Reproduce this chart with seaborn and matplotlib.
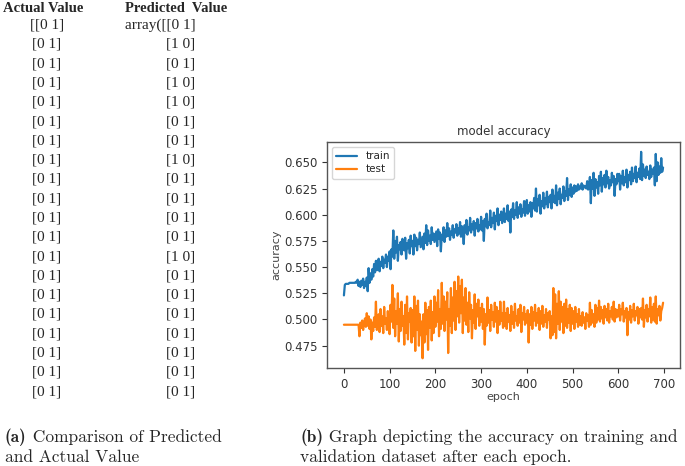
import matplotlib
matplotlib.use("Agg")
import matplotlib.pyplot as plt
import seaborn as sns
import pandas as pd

sns.set_style("ticks")

# left table: actual vs predicted one-hot labels
actual_vals = ["[[0 1]"] + ["[0 1]"] * 19
predicted_vals = ["array([[0 1]", "[1 0]", "[0 1]", "[1 0]", "[1 0]", "[0 1]", "[0 1]",
                  "[1 0]", "[0 1]", "[0 1]", "[0 1]", "[0 1]", "[1 0]", "[0 1]",
                  "[0 1]", "[0 1]", "[0 1]", "[0 1]", "[0 1]", "[0 1]"]

# accuracy history, read every 2 epochs (one row = 50 epochs)
epochs = list(range(0, 700, 2))
train_acc = [
    0.523, 0.533, 0.534, 0.534, 0.534, 0.534, 0.535, 0.535, 0.535, 0.535, 0.535, 0.535, 0.535,
    0.536, 0.535, 0.538, 0.532, 0.536, 0.531, 0.537, 0.533, 0.539, 0.530, 0.536, 0.532,
    0.540, 0.527, 0.549, 0.535, 0.544, 0.538, 0.548, 0.541, 0.553, 0.545, 0.556, 0.547, 0.552,
    0.558, 0.546, 0.555, 0.551, 0.560, 0.549, 0.557, 0.554, 0.562, 0.550, 0.560, 0.556,
    0.565, 0.548, 0.567, 0.560, 0.585, 0.558, 0.575, 0.564, 0.579, 0.556, 0.571, 0.567, 0.574,
    0.562, 0.577, 0.569, 0.566, 0.578, 0.558, 0.573, 0.568, 0.576, 0.563, 0.580, 0.570,
    0.575, 0.562, 0.581, 0.570, 0.578, 0.566, 0.576, 0.572, 0.583, 0.569, 0.574, 0.579, 0.567,
    0.582, 0.573, 0.590, 0.571, 0.585, 0.575, 0.580, 0.572, 0.588, 0.576, 0.582, 0.574,
    0.579, 0.584, 0.570, 0.586, 0.577, 0.583, 0.565, 0.581, 0.576, 0.588, 0.574, 0.585, 0.579,
    0.592, 0.580, 0.587, 0.576, 0.584, 0.581, 0.590, 0.578, 0.586, 0.583, 0.591, 0.580,
    0.587, 0.582, 0.593, 0.579, 0.589, 0.584, 0.572, 0.590, 0.583, 0.595, 0.581, 0.588, 0.585,
    0.597, 0.583, 0.591, 0.586, 0.594, 0.580, 0.592, 0.587, 0.596, 0.584, 0.590, 0.586,
    0.598, 0.585, 0.594, 0.575, 0.596, 0.589, 0.601, 0.587, 0.593, 0.590, 0.604, 0.588, 0.597,
    0.592, 0.602, 0.586, 0.599, 0.594, 0.606, 0.590, 0.600, 0.595, 0.603, 0.592, 0.598,
    0.606, 0.593, 0.601, 0.596, 0.609, 0.594, 0.603, 0.583, 0.605, 0.598, 0.611, 0.596, 0.604,
    0.600, 0.612, 0.597, 0.607, 0.601, 0.610, 0.598, 0.605, 0.602, 0.613, 0.599, 0.608,
    0.614, 0.601, 0.609, 0.603, 0.612, 0.598, 0.611, 0.606, 0.616, 0.604, 0.625, 0.603, 0.615,
    0.609, 0.619, 0.601, 0.613, 0.608, 0.621, 0.606, 0.616, 0.610, 0.622, 0.607, 0.617,
    0.612, 0.619, 0.606, 0.624, 0.612, 0.618, 0.611, 0.628, 0.609, 0.621, 0.615, 0.625, 0.610,
    0.619, 0.616, 0.627, 0.613, 0.622, 0.618, 0.635, 0.614, 0.624, 0.619, 0.629, 0.617,
    0.626, 0.620, 0.628, 0.622, 0.627, 0.623, 0.629, 0.624, 0.627, 0.625, 0.630, 0.624, 0.628,
    0.626, 0.627, 0.625, 0.632, 0.624, 0.628, 0.636, 0.611, 0.633, 0.625, 0.640, 0.618,
    0.634, 0.626, 0.631, 0.620, 0.637, 0.628, 0.641, 0.622, 0.635, 0.629, 0.638, 0.626, 0.642,
    0.630, 0.636, 0.625, 0.633, 0.628, 0.640, 0.631, 0.637, 0.618, 0.634, 0.629, 0.639,
    0.632, 0.639, 0.624, 0.637, 0.630, 0.642, 0.628, 0.636, 0.631, 0.643, 0.626, 0.638, 0.633,
    0.641, 0.629, 0.645, 0.632, 0.639, 0.635, 0.646, 0.631, 0.640, 0.636, 0.644, 0.634,
    0.660, 0.633, 0.648, 0.637, 0.643, 0.635, 0.646, 0.638, 0.641, 0.634, 0.647, 0.636, 0.643,
    0.639, 0.645, 0.628, 0.658, 0.632, 0.650, 0.638, 0.646, 0.640, 0.654, 0.641, 0.645,
]
test_acc = [
    0.495, 0.495, 0.495, 0.495, 0.495, 0.495, 0.495, 0.495, 0.495, 0.495, 0.495, 0.495, 0.495,
    0.495, 0.495, 0.495, 0.495, 0.484, 0.497, 0.492, 0.499, 0.490, 0.496, 0.501, 0.493,
    0.506, 0.494, 0.503, 0.491, 0.500, 0.481, 0.497, 0.489, 0.502, 0.493, 0.517, 0.490, 0.499,
    0.505, 0.488, 0.510, 0.494, 0.503, 0.487, 0.512, 0.496, 0.501, 0.490, 0.508, 0.493,
    0.486, 0.514, 0.498, 0.533, 0.492, 0.520, 0.484, 0.508, 0.496, 0.525, 0.479, 0.510, 0.489,
    0.517, 0.494, 0.503, 0.476, 0.514, 0.487, 0.522, 0.481, 0.506, 0.498, 0.511, 0.478,
    0.509, 0.484, 0.522, 0.470, 0.513, 0.490, 0.518, 0.475, 0.505, 0.485, 0.498, 0.463, 0.505,
    0.478, 0.516, 0.486, 0.509, 0.471, 0.512, 0.492, 0.518, 0.480, 0.507, 0.487, 0.522,
    0.493, 0.516, 0.498, 0.528, 0.484, 0.510, 0.491, 0.535, 0.496, 0.522, 0.489, 0.517, 0.500,
    0.526, 0.468, 0.510, 0.494, 0.530, 0.487, 0.521, 0.499, 0.536, 0.490, 0.527, 0.503,
    0.541, 0.497, 0.532, 0.506, 0.538, 0.487, 0.521, 0.499, 0.530, 0.495, 0.516, 0.488, 0.526,
    0.501, 0.514, 0.482, 0.509, 0.497, 0.524, 0.491, 0.515, 0.503, 0.519, 0.494, 0.511,
    0.498, 0.515, 0.491, 0.510, 0.476, 0.505, 0.494, 0.521, 0.497, 0.509, 0.489, 0.514, 0.500,
    0.507, 0.493, 0.516, 0.498, 0.512, 0.487, 0.508, 0.495, 0.517, 0.499, 0.506, 0.492,
    0.517, 0.494, 0.506, 0.491, 0.511, 0.498, 0.504, 0.489, 0.513, 0.496, 0.507, 0.492, 0.515,
    0.499, 0.503, 0.494, 0.510, 0.497, 0.514, 0.488, 0.506, 0.500, 0.512, 0.495, 0.505,
    0.497, 0.509, 0.478, 0.505, 0.495, 0.512, 0.491, 0.507, 0.499, 0.514, 0.494, 0.506, 0.497,
    0.511, 0.490, 0.508, 0.496, 0.513, 0.493, 0.504, 0.498, 0.510, 0.492, 0.506, 0.500,
    0.508, 0.482, 0.503, 0.485, 0.530, 0.488, 0.524, 0.482, 0.515, 0.496, 0.527, 0.490, 0.517,
    0.498, 0.512, 0.487, 0.515, 0.494, 0.519, 0.492, 0.510, 0.497, 0.514, 0.489, 0.511,
    0.496, 0.508, 0.491, 0.512, 0.498, 0.505, 0.493, 0.510, 0.495, 0.503, 0.494, 0.507, 0.497,
    0.502, 0.491, 0.506, 0.499, 0.504, 0.493, 0.516, 0.495, 0.509, 0.497, 0.505, 0.493,
    0.514, 0.497, 0.511, 0.500, 0.518, 0.498, 0.512, 0.501, 0.509, 0.496, 0.513, 0.502, 0.510,
    0.499, 0.515, 0.497, 0.508, 0.503, 0.512, 0.500, 0.517, 0.498, 0.510, 0.502, 0.509,
    0.503, 0.514, 0.499, 0.510, 0.505, 0.516, 0.498, 0.508, 0.502, 0.511, 0.485, 0.507, 0.500,
    0.513, 0.497, 0.509, 0.503, 0.515, 0.499, 0.508, 0.504, 0.512, 0.496, 0.510, 0.502,
    0.511, 0.500, 0.520, 0.493, 0.509, 0.502, 0.514, 0.498, 0.510, 0.503, 0.521, 0.497, 0.512,
    0.500, 0.515, 0.498, 0.522, 0.496, 0.510, 0.504, 0.513, 0.499, 0.508, 0.511, 0.516,
]

df = pd.DataFrame({
    "epoch": epochs * 2,
    "accuracy": train_acc + test_acc,
    "series": ["train"] * len(epochs) + ["test"] * len(epochs),
})

W, H = 685, 466
fig = plt.figure(figsize=(6.85, 4.66), dpi=100)

# ---- table (a) ----
serif = "Liberation Serif"
fig.text(3 / W, 1 - 8 / H, "Actual Value", fontsize=10.5, fontweight="bold",
         family=serif, ha="left", va="center")
fig.text(125 / W, 1 - 8 / H, "Predicted  Value", fontsize=10.5, fontweight="bold",
         family=serif, ha="left", va="center")
row_y = [25 + i * 19.3 for i in range(len(actual_vals))]
for i, (a, p) in enumerate(zip(actual_vals, predicted_vals)):
    y = 1 - row_y[i] / H
    fig.text(47 / W, y, a, fontsize=11, family=serif, ha="center", va="center")
    if i == 0:
        fig.text(125 / W, y, p, fontsize=11, family=serif, ha="left", va="center")
    else:
        fig.text(181 / W, y, p, fontsize=11, family=serif, ha="center", va="center")

# ---- chart (b) ----
ax = fig.add_axes([327 / W, 98 / H, 353 / W, 226 / H])
sns.lineplot(data=df, x="epoch", y="accuracy", hue="series",
             palette=["#1f77b4", "#ff7f0e"], linewidth=1.6, ax=ax)
ax.set_xlim(-37, 735)
ax.set_ylim(0.4537, 0.6694)
ax.set_xticks([0, 100, 200, 300, 400, 500, 600, 700])
ax.set_yticks([0.475, 0.500, 0.525, 0.550, 0.575, 0.600, 0.625, 0.650])
ax.set_yticklabels(["0.475", "0.500", "0.525", "0.550", "0.575", "0.600", "0.625", "0.650"])
ax.tick_params(labelsize=8.5, colors="#333333", length=3.5, width=0.8)
for s in ax.spines.values():
    s.set_visible(True)
    s.set_color("#555555")
    s.set_linewidth(1.0)
ax.set_title("model accuracy", fontsize=8.5, color="#333333", pad=5)
ax.set_xlabel("epoch", fontsize=8, color="#444444", labelpad=1)
ax.set_ylabel("accuracy", fontsize=8, color="#444444", labelpad=2)
leg = ax.legend(loc="upper left", fontsize=7.5, title=None, frameon=True,
                handlelength=2.0, borderpad=0.4, labelspacing=0.3)
leg.get_frame().set_edgecolor("#cccccc")

# ---- captions: bold label in cmb10, text in cmr10 ----
captions = [
    (5, "(a)", "Comparison of Predicted", "and Actual Value"),
    (300, "(b)", "Graph depicting the accuracy on training and",
     "validation dataset after each epoch."),
]
for x0, lab, line1, line2 in captions:
    t = fig.text(x0 / W, 1 - 437 / H, lab, fontsize=12.5, family="cmb10",
                 ha="left", va="center")
    ax.annotate(" " + line1, xy=(1, 0.5), xycoords=t, va="center", ha="left",
                fontsize=12.5, family="cmr10", annotation_clip=False)
    fig.text(x0 / W, 1 - 457 / H, line2, fontsize=12.5, family="cmr10",
             ha="left", va="center")

fig.savefig("out.png", dpi=100)
